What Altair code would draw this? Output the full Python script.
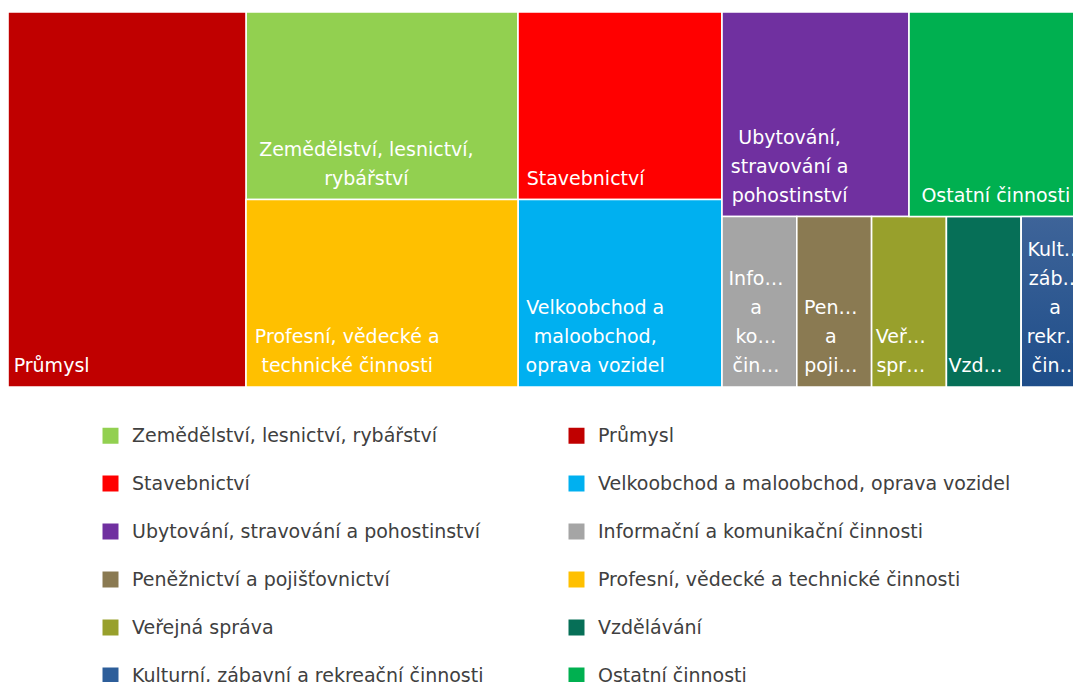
import altair as alt
import pandas as pd

# ---- data (category order as in the legend) ----
categories = [
    "Zemědělství, lesnictví, rybářství",
    "Průmysl",
    "Stavebnictví",
    "Velkoobchod a maloobchod, oprava vozidel",
    "Ubytování, stravování a pohostinství",
    "Informační a komunikační činnosti",
    "Peněžnictví a pojišťovnictví",
    "Profesní, vědecké a technické činnosti",
    "Veřejná správa",
    "Vzdělávání",
    "Kulturní, zábavní a rekreační činnosti",
    "Ostatní činnosti",
]
values = [4, 7, 3, 3, 3, 1, 1, 4, 1, 1, 1, 3]
colors = ["#92D050", "#C00000", "#FF0000", "#00B0F0", "#7030A0", "#A5A5A5",
          "#8A7A52", "#FFC000", "#98A02C", "#066F57", "#2D5E9A", "#00B050"]
cell_labels = [
    "Zemědělství, lesnictví,\nrybářství",
    "Průmysl",
    "Stavebnictví",
    "Velkoobchod a\nmaloobchod,\noprava vozidel",
    "Ubytování,\nstravování a\npohostinství",
    "Info…\na\nko…\nčin…",
    "Pen…\na\npoji…",
    "Profesní, vědecké a\ntechnické činnosti",
    "Veř…\nspr…",
    "Vzd…",
    "Kult…\nzáb…\na\nrekr…\nčin…",
    "Ostatní činnosti",
]
gradient_cell = "Kulturní, zábavní a rekreační činnosti"
gradient_colors = ["#3E6499", "#1E4D89"]

# legend shows two columns filled row by row
legend_order = categories[0::2] + categories[1::2]

# ---- treemap layout (grouping of cells; sizes come from the values) ----
TM_W, TM_H = 1088.0, 375.0      # full treemap extent (its right edge is cut off)
VIEW_W = 1065.0                 # visible part
plan = ("h", [1, ("v", [0, 7]), ("v", [2, 3]),
              ("v", [("h", [4, 11]), ("h", [5, 6, 8, 9, 10])])])


def total(node):
    if isinstance(node, int):
        return values[node]
    return sum(total(c) for c in node[1])


def place(node, x0, y0, x1, y1, out):
    if isinstance(node, int):
        out[node] = (x0, y0, x1, y1)
        return
    d, children = node
    t = total(node)
    pos = x0 if d == "h" else y0
    for c in children:
        share = total(c) / t
        if d == "h":
            w = (x1 - x0) * share
            place(c, pos, y0, pos + w, y1, out)
        else:
            w = (y1 - y0) * share
            place(c, x0, pos, x1, pos + w, out)
        pos += w


boxes = {}
place(plan, 0.0, 0.0, TM_W, TM_H, boxes)

rows = []
for i, name in enumerate(categories):
    x0, y0, x1, y1 = boxes[i]
    lines = cell_labels[i].split("\n")
    longest = max(len(s) for s in lines)
    lx = min(x0 + 10 + longest * 9.6 / 2, (x0 + x1) / 2)
    ly = y1 - 15 - (len(lines) - 1) * 29
    rows.append(dict(name=name, value=values[i], x0=x0, x1=x1, y0=y0, y1=y1,
                     label=cell_labels[i], lx=lx, ly=ly))
df = pd.DataFrame(rows)

xs = alt.Scale(domain=[0, VIEW_W], nice=False, zero=False)
ys = alt.Scale(domain=[0, TM_H], nice=False, zero=False, reverse=True)

rects = alt.Chart(df).mark_rect(stroke="white", strokeWidth=1.6, clip=True).encode(
    x=alt.X("x0:Q", scale=xs, axis=None),
    x2="x1:Q",
    y=alt.Y("y0:Q", scale=ys, axis=None),
    y2="y1:Q",
    color=alt.Color(
        "name:N",
        scale=alt.Scale(domain=categories, range=colors),
        legend=alt.Legend(
            title=None, orient="none", legendX=93, legendY=414, columns=2,
            values=legend_order,
            symbolType="square", symbolSize=256, symbolStrokeWidth=0,
            labelFont="DejaVu Sans", labelFontSize=19, labelColor="#404040",
            labelOffset=12, rowPadding=28, columnPadding=83, padding=0,
            labelLimit=600,
        ),
    ),
)

grad = alt.Chart(df).transform_filter(
    alt.datum.name == gradient_cell
).mark_rect(
    stroke="white", strokeWidth=1.6, clip=True,
    fill=alt.LinearGradient(
        gradient="linear", x1=0, x2=0, y1=0, y2=1,
        stops=[alt.GradientStop(color=gradient_colors[0], offset=0),
               alt.GradientStop(color=gradient_colors[1], offset=1)],
    ),
).encode(
    x=alt.X("x0:Q", scale=xs, axis=None),
    x2="x1:Q",
    y=alt.Y("y0:Q", scale=ys, axis=None),
    y2="y1:Q",
)

texts = alt.Chart(df).mark_text(
    align="center", baseline="alphabetic", lineBreak="\n", font="DejaVu Sans",
    fontSize=19, lineHeight=29, color="white", clip=True,
).encode(
    x=alt.X("lx:Q", scale=xs, axis=None),
    y=alt.Y("ly:Q", scale=ys, axis=None),
    text="label:N",
)

chart = alt.layer(rects, grad, texts).properties(
    width=VIEW_W, height=TM_H,
    padding={"left": 0, "top": 4, "right": 0, "bottom": 0},
).configure_view(stroke=None)

chart.save("out.html", embed_options={"renderer": "svg", "actions": False})
